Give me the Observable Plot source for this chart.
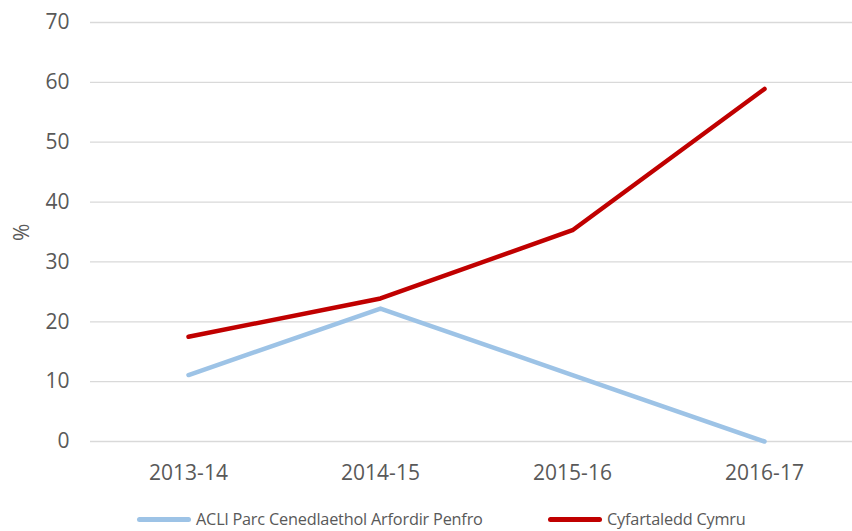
<!DOCTYPE html>
<html>
<head>
<meta charset="utf-8">
<script src="https://cdn.jsdelivr.net/npm/d3@7"></script>
<script src="https://cdn.jsdelivr.net/npm/@observablehq/plot@0.6"></script>
<style>
  html, body { margin: 0; padding: 0; background: #fff; }
  #wrap { position: relative; width: 852px; height: 531px; overflow: hidden; }
  .leg { position: absolute; top: 508px; height: 22px; display: flex; align-items: center;
         font-family: "Open Sans", sans-serif; font-size: 16.3px; color: #595959; white-space: nowrap; letter-spacing: -0.2px; }
  .leg .sw { display: inline-block; width: 54px; height: 5px; border-radius: 3px; margin-right: 5px; }
</style>
</head>
<body>
<div id="wrap"></div>
<script>
const years = ["2013-14", "2014-15", "2015-16", "2016-17"];
const seriesNames = ["ACLl Parc Cenedlaethol Arfordir Penfro", "Cyfartaledd Cymru"];
const parkValues = [11.1, 22.2, 11.1, 0];
const walesValues = [17.5, 23.9, 35.3, 58.9];
const yTicks = [0, 10, 20, 30, 40, 50, 60, 70];
const yLabel = "%";
const colors = ["#9DC3E6", "#C00000"];

const data = [
  ...years.map((y, i) => ({year: y, value: parkValues[i], series: seriesNames[0]})),
  ...years.map((y, i) => ({year: y, value: walesValues[i], series: seriesNames[1]}))
];

const chart = Plot.plot({
  width: 852,
  height: 495,
  marginLeft: 90,
  marginRight: 0,
  marginTop: 22,
  marginBottom: 54,
  style: {fontFamily: "'Open Sans', sans-serif", background: "#fff", overflow: "visible"},
  x: {type: "point", domain: years, range: [187, 765], padding: 0},
  y: {domain: [0, 70]},
  color: {domain: seriesNames, range: colors},
  marks: [
    Plot.ruleY(yTicks, {stroke: "#d9d9d9", strokeWidth: 1.3}),
    Plot.axisY(yTicks, {tickSize: 0, tickPadding: 21, fontSize: 21, fill: "#595959", label: null}),
    Plot.text([yLabel], {frameAnchor: "left", dx: -68, dy: 9, rotate: -90, fontSize: 21, fill: "#595959", text: d => d}),
    Plot.axisX({tickSize: 0, tickPadding: 24, fontSize: 21, fill: "#595959", label: null}),
    Plot.line(data, {x: "year", y: "value", z: "series", stroke: "series", strokeWidth: 4.5,
      strokeLinecap: "round", strokeLinejoin: "round"})
  ]
});

const wrap = document.getElementById("wrap");
wrap.appendChild(chart);

const legLefts = [137, 548];
seriesNames.forEach((name, i) => {
  const d = document.createElement("div");
  d.className = "leg";
  d.style.left = legLefts[i] + "px";
  const sw = document.createElement("span");
  sw.className = "sw";
  sw.style.background = colors[i];
  const t = document.createElement("span");
  t.textContent = name;
  d.appendChild(sw);
  d.appendChild(t);
  wrap.appendChild(d);
});
</script>
</body>
</html>
